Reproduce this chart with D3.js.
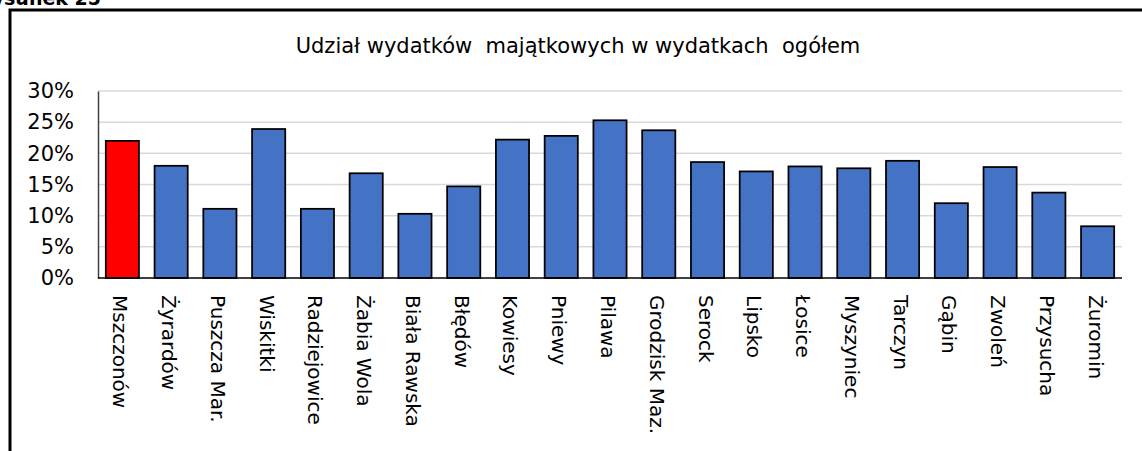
<!DOCTYPE html>
<html>
<head>
<meta charset="utf-8">
<script src="https://cdn.jsdelivr.net/npm/d3@7"></script>
<style>
  html, body { margin: 0; padding: 0; background: #fff; overflow: hidden; }
  text { font-family: "DejaVu Sans", sans-serif; fill: #000; }
</style>
</head>
<body>
<div id="chart"></div>
<script>
const categories = ['Mszczonów', 'Żyrardów', 'Puszcza Mar.', 'Wiskitki', 'Radziejowice', 'Żabia Wola',
  'Biała Rawska', 'Błędów', 'Kowiesy', 'Pniewy', 'Pilawa', 'Grodzisk Maz.', 'Serock', 'Lipsko',
  'Łosice', 'Myszyniec', 'Tarczyn', 'Gąbin', 'Zwoleń', 'Przysucha', 'Żuromin']
const shares = [22.0, 18.0, 11.1, 23.9, 11.1, 16.8, 10.3, 14.7, 22.2, 22.8, 25.3, 23.7,
  18.6, 17.1, 17.9, 17.6, 18.8, 12.0, 17.8, 13.7, 8.3]
const yTicks = [0, 5, 10, 15, 20, 25, 30]
const highlighted = 'Mszczonów'
const title = 'Udział wydatków  majątkowych w wydatkach  ogółem'
const caption = 'Rysunek 25'

const width = 1142
const height = 451
const plot = { left: 98, right: 1122, top: 91, bottom: 278 }

const svg = d3.select('#chart')
  .append('svg')
  .attr('width', width)
  .attr('height', height)

// ramka wokół wykresu (prawa i dolna krawędź poza kadrem)
svg.append('rect')
  .attr('x', 10).attr('y', 10)
  .attr('width', width + 20).attr('height', height + 20)
  .attr('fill', 'none')
  .attr('stroke', '#000')
  .attr('stroke-width', 3)

svg.append('text')
  .attr('x', 101).attr('y', 5)
  .attr('text-anchor', 'end')
  .attr('font-weight', 'bold')
  .attr('font-size', 19)
  .text(caption)

svg.append('text')
  .attr('x', 578).attr('y', 53)
  .attr('text-anchor', 'middle')
  .attr('font-size', 21)
  .style('white-space', 'pre')
  .text(title)

const x = d3.scaleBand()
  .domain(categories)
  .range([plot.left, plot.right])
  .paddingInner(0.32)
  .paddingOuter(0.16)

const y = d3.scaleLinear()
  .domain([0, 30])
  .range([plot.bottom, plot.top])

// siatka
svg.append('g')
  .selectAll('line')
  .data(yTicks.filter(d => d > 0))
  .join('line')
  .attr('x1', plot.left).attr('x2', plot.right)
  .attr('y1', d => y(d)).attr('y2', d => y(d))
  .attr('stroke', '#d9d9d9')
  .attr('stroke-width', 1.5)

// oś Y
const yAxis = svg.append('g')
  .attr('transform', `translate(${plot.left},0)`)
  .call(d3.axisLeft(y).tickValues(yTicks).tickSize(0).tickPadding(24).tickFormat(d => d + '%'))
yAxis.select('.domain').attr('stroke', '#404040').attr('stroke-width', 1.5)
yAxis.selectAll('text')
  .attr('font-size', 21)
  .attr('font-family', '"DejaVu Sans", sans-serif')
  .attr('fill', '#000')

// słupki
svg.append('g')
  .selectAll('rect')
  .data(categories)
  .join('rect')
  .attr('x', d => x(d))
  .attr('y', (d, i) => y(shares[i]))
  .attr('width', x.bandwidth())
  .attr('height', (d, i) => y(0) - y(shares[i]))
  .attr('fill', d => d === highlighted ? '#ff0000' : '#4472c4')
  .attr('stroke', '#000')
  .attr('stroke-width', 1.75)

// oś X
svg.append('line')
  .attr('x1', plot.left).attr('x2', plot.right)
  .attr('y1', y(0)).attr('y2', y(0))
  .attr('stroke', '#000')
  .attr('stroke-width', 1.5)

svg.append('g')
  .selectAll('text')
  .data(categories)
  .join('text')
  .attr('transform', d => `translate(${x(d) + x.bandwidth() / 2},295) rotate(90)`)
  .attr('dy', '0.45em')
  .attr('font-size', 20)
  .text(d => d)
</script>
</body>
</html>
